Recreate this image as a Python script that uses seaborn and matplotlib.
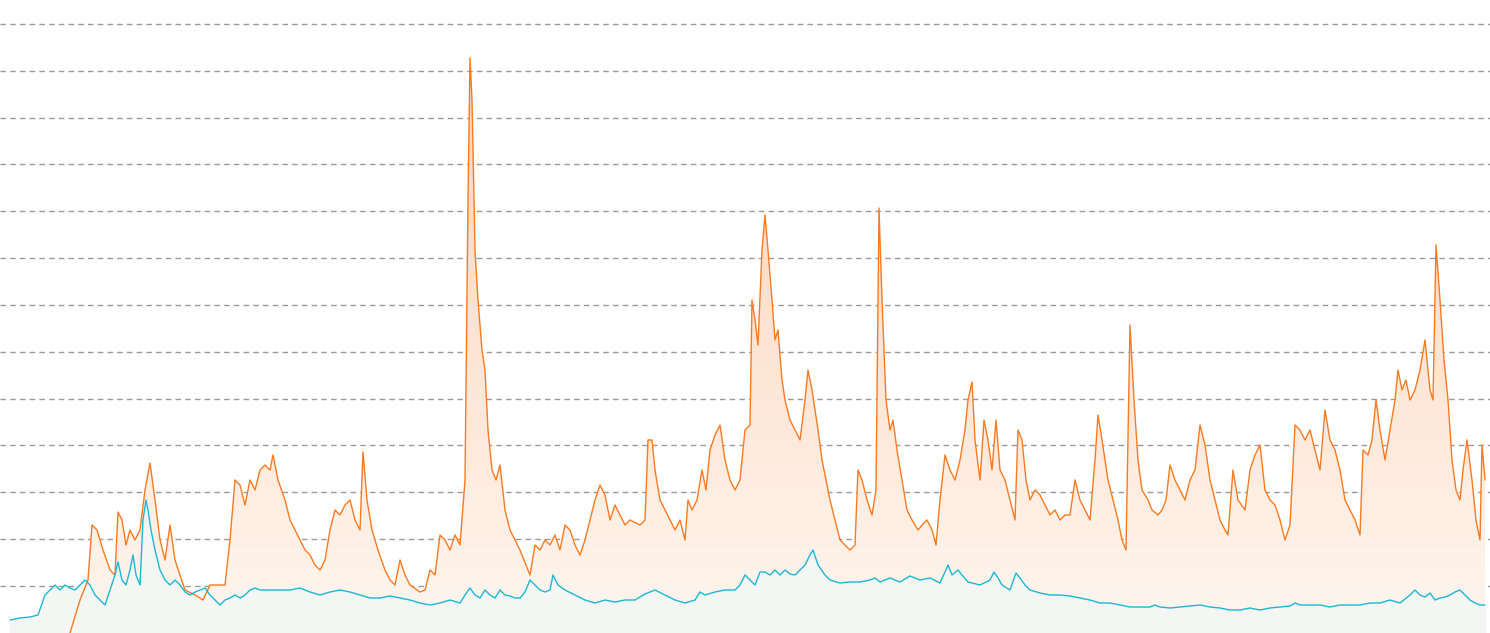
import numpy as np
import pandas as pd
import matplotlib
matplotlib.use("Agg")
import matplotlib.pyplot as plt
import seaborn as sns
from matplotlib.colors import LinearSegmentedColormap

orange_x = [10,60,70,80,88,92,97,103,110,115,118,122,126,130,135,140,145,150,155,160,165,170,175,180,185,195,203,210,220,225,230,235,240,245,250,255,260,265,270,273,278,285,290,295,300,305,310,315,320,325,330,335,340,345,350,355,360,363,367,372,378,385,390,395,400,405,410,420,425,430,435,440,445,450,455,460,465,468,470,472,475,478,482,485,488,492,496,500,505,510,520,530,535,540,545,550,555,560,565,570,575,580,585,590,595,600,605,610,615,620,625,630,640,645,648,652,655,660,665,670,675,680,685,688,692,697,702,706,710,715,720,725,730,735,740,745,750,752,755,758,762,765,768,772,775,778,782,785,790,795,800,805,808,812,818,822,826,830,835,840,845,850,855,858,862,867,872,876,879,882,886,890,893,897,902,907,912,918,922,927,932,936,940,945,950,955,960,965,968,972,975,980,984,988,992,996,1000,1005,1010,1015,1018,1022,1026,1030,1035,1040,1045,1050,1055,1060,1065,1070,1075,1080,1085,1090,1095,1098,1102,1108,1113,1118,1122,1126,1130,1134,1138,1142,1148,1152,1158,1162,1166,1170,1175,1180,1185,1190,1195,1200,1205,1210,1215,1220,1225,1228,1233,1238,1245,1250,1255,1260,1265,1270,1275,1280,1285,1290,1295,1300,1305,1310,1315,1320,1325,1330,1335,1340,1345,1350,1355,1360,1363,1368,1372,1376,1380,1385,1390,1395,1398,1402,1406,1410,1415,1420,1425,1430,1433,1436,1440,1444,1448,1452,1456,1460,1463,1467,1472,1476,1480,1482,1485]
orange_y = [680,660,633,600,580,525,530,550,570,575,512,520,545,530,540,530,490,463,500,540,560,525,560,575,590,595,600,585,585,585,540,480,485,505,480,490,470,465,470,455,480,500,520,530,540,550,555,565,570,560,530,510,515,505,500,520,530,452,500,530,550,570,580,585,560,575,585,592,590,570,575,535,540,550,535,545,480,200,58,100,250,300,350,370,430,470,480,465,510,530,550,575,545,550,540,545,535,550,525,530,545,555,540,520,500,485,495,520,505,515,525,520,525,520,440,440,470,500,510,520,530,520,540,500,510,500,470,490,450,435,425,460,480,490,480,430,425,300,320,345,250,215,250,300,340,330,380,400,420,430,440,400,370,390,430,460,480,500,520,540,545,550,545,470,480,500,515,490,208,300,400,430,420,450,480,510,520,530,525,520,530,545,500,455,470,480,460,430,400,382,440,480,420,440,470,420,470,480,500,520,430,440,480,500,490,495,505,515,510,520,515,515,480,500,510,520,460,415,440,480,500,520,540,550,325,400,460,490,500,510,515,510,500,465,480,490,500,480,470,425,445,480,500,520,530,535,470,500,510,470,455,445,490,500,505,520,540,525,425,430,440,430,450,470,410,440,450,470,500,510,520,535,450,455,440,400,430,460,430,400,370,390,380,400,390,370,340,390,400,245,300,360,400,460,490,500,470,440,480,520,540,445,480]

cyan_x = [10,20,30,38,45,50,55,60,65,70,75,80,85,90,95,100,105,110,115,118,122,126,130,133,136,140,143,146,148,151,155,160,165,170,175,180,185,190,195,200,205,210,215,220,225,230,235,240,245,250,255,260,270,280,290,300,310,320,330,340,350,360,370,380,390,400,410,420,430,440,450,460,465,470,475,480,485,490,495,500,505,510,515,520,525,530,535,540,545,550,553,558,565,575,585,595,605,615,625,635,645,655,665,675,685,695,700,705,715,725,735,740,745,750,755,760,765,770,775,780,785,790,795,800,805,810,813,818,825,830,840,850,860,870,875,880,890,900,910,920,930,940,945,948,952,958,962,968,980,990,994,998,1002,1010,1016,1020,1025,1030,1040,1050,1060,1070,1080,1090,1100,1110,1120,1130,1140,1150,1155,1160,1170,1180,1190,1200,1210,1220,1230,1240,1250,1260,1270,1280,1290,1295,1300,1310,1320,1330,1340,1350,1360,1370,1380,1390,1400,1410,1415,1420,1425,1430,1435,1440,1445,1450,1455,1460,1465,1470,1475,1480,1485]
cyan_y = [620,618,617,615,595,590,585,590,585,588,590,585,580,585,595,600,605,590,575,562,580,585,570,555,575,585,520,500,510,530,550,570,580,585,580,585,592,595,592,590,588,595,600,605,600,598,595,598,595,590,588,590,590,590,590,588,592,595,592,590,592,595,598,598,596,598,600,603,605,603,600,603,595,588,595,598,590,595,598,590,595,596,598,598,592,580,585,590,592,590,575,585,590,595,600,603,600,602,600,600,594,590,595,600,603,600,592,595,592,590,590,585,575,580,585,572,572,575,570,575,570,574,575,570,565,555,550,565,575,580,583,582,582,580,578,582,578,582,576,580,578,583,572,565,575,570,575,582,585,580,572,578,585,590,573,578,585,590,593,595,595,596,598,600,603,603,605,607,607,607,605,607,608,607,606,605,607,608,610,610,608,610,608,607,606,603,605,605,605,607,605,605,605,603,603,600,603,595,590,595,597,593,600,598,597,595,592,590,595,600,603,605,605]

df_o = pd.DataFrame({"x": orange_x, "y": orange_y})
df_c = pd.DataFrame({"x": cyan_x, "y": cyan_y})

sns.set_style("white")
fig = plt.figure(figsize=(14.90, 6.33), dpi=100)
ax = fig.add_axes([0, 0, 1, 1])
ax.set_xlim(0, 1490)
ax.set_ylim(633, 0)
for s in ax.spines.values():
    s.set_visible(False)
ax.set_xticks([]); ax.set_yticks([])

for k in range(13):
    ax.axhline(24 + 46.83 * k, color="#9a9a9a", lw=1, ls=(0, (4, 3)), zorder=0)

poly = ax.fill_between(orange_x, orange_y, 633, color="none")
cmap = LinearSegmentedColormap.from_list("g", ["#fcd3b8", "#fff6ef"])
grad = np.linspace(0, 1, 256).reshape(-1, 1)
im = ax.imshow(grad, extent=[0, 1490, 633, 58], cmap=cmap, aspect="auto", zorder=1)
im.set_clip_path(poly.get_paths()[0], transform=ax.transData)

ax.fill_between(cyan_x, cyan_y, 633, color="#f3f6f2", zorder=2)

sns.lineplot(data=df_o, x="x", y="y", ax=ax, color="#f97a1f", lw=1.0, zorder=3, sort=False)
sns.lineplot(data=df_c, x="x", y="y", ax=ax, color="#1ab8d4", lw=1.0, zorder=4, sort=False)
ax.set_xlabel(""); ax.set_ylabel("")
ax.set_xlim(0, 1490)
ax.set_ylim(633, 0)

fig.savefig("out.png", dpi=100)
